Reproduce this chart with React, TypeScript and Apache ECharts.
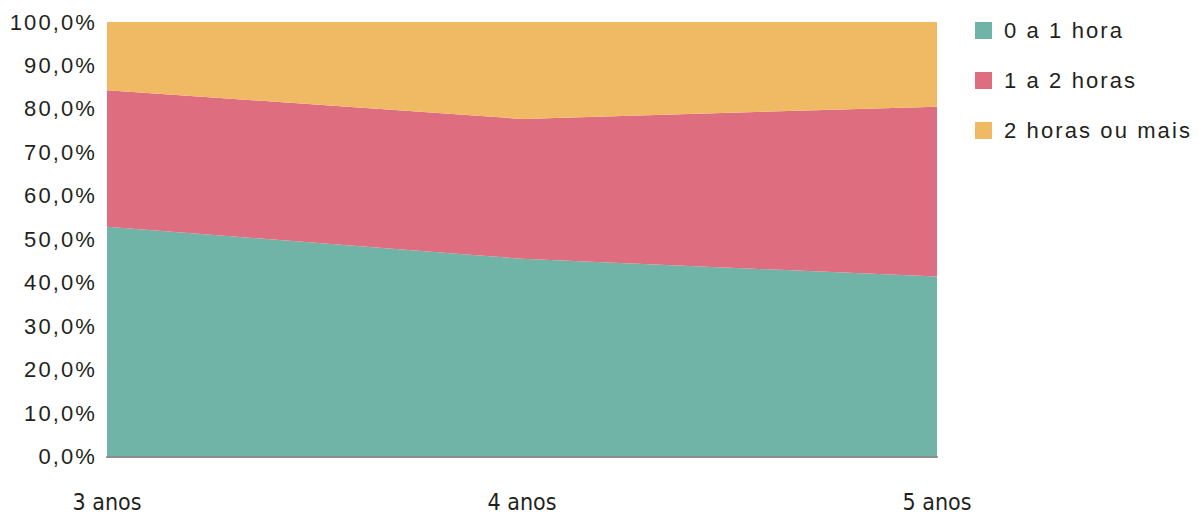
import React, { useEffect, useRef } from "react";
import * as echarts from "echarts";

// Share of children by daily screen time, per age group (percent)
const ageGroups = ["3 anos", "4 anos", "5 anos"];
const seriesNames = ["0 a 1 hora", "1 a 2 horas", "2 horas ou mais"];
const upToOneHour = [52.9, 45.5, 41.4];
const oneToTwoHours = [31.4, 32.2, 39.1];
const twoHoursOrMore = [15.7, 22.3, 19.5];
const colors = ["#70B3A7", "#DE6D80", "#F0BA65"];
const yTicks = { min: 0, max: 100, interval: 10 };

const TEXT_COLOR = "#231F20";
const BODY_FONT = "'Liberation Sans', Arial, Helvetica, sans-serif";
const NARROW_FONT = "'Liberation Sans Narrow', 'DejaVu Sans Condensed', sans-serif";

export default function App() {
  const ref = useRef<HTMLDivElement>(null);

  useEffect(() => {
    document.body.style.margin = "0";
    if (!ref.current) return;
    const chart = echarts.init(ref.current, undefined, { renderer: "svg" });

    const values = [upToOneHour, oneToTwoHours, twoHoursOrMore];

    chart.setOption({
      animation: false,
      color: colors,
      grid: { left: 107, right: 261, top: 22, bottom: 59.5, containLabel: false },
      legend: {
        orient: "vertical",
        left: 975,
        top: 19.5,
        padding: 0,
        icon: "rect",
        itemWidth: 17,
        itemHeight: 17,
        itemGap: 28,
        textStyle: {
          fontFamily: BODY_FONT,
          fontSize: 22,
          lineHeight: 22,
          color: TEXT_COLOR,
          padding: [0, 0, 0, 7],
        },
        data: seriesNames,
      },
      xAxis: {
        type: "category",
        data: ageGroups,
        boundaryGap: false,
        z: 10,
        axisLine: { show: true, lineStyle: { color: "#8C8C8C", width: 2 } },
        axisTick: { show: false },
        axisLabel: {
          margin: 34,
          fontFamily: NARROW_FONT,
          fontSize: 23,
          color: TEXT_COLOR,
        },
        splitLine: { show: false },
      },
      yAxis: {
        type: "value",
        min: yTicks.min,
        max: yTicks.max,
        interval: yTicks.interval,
        axisLine: { show: false },
        axisTick: { show: false },
        splitLine: { show: false },
        axisLabel: {
          margin: 10,
          fontFamily: BODY_FONT,
          fontSize: 22,
          color: TEXT_COLOR,
          formatter: (v: number) => v.toFixed(1).replace(".", ",") + "%",
        },
      },
      series: seriesNames.map((name, i) => ({
        name,
        type: "line",
        stack: "total",
        data: values[i],
        symbol: "none",
        lineStyle: { width: 0 },
        areaStyle: { color: colors[i], opacity: 1 },
        emphasis: { disabled: true },
      })),
    });

    return () => chart.dispose();
  }, []);

  return (
    <>
      <style>{`
        .chart-host svg text { letter-spacing: 2.1px; }
        .chart-host svg text[style*="Narrow"] { letter-spacing: 0; }
      `}</style>
      <div className="chart-host" ref={ref} style={{ width: 1198, height: 516 }} />
    </>
  );
}
